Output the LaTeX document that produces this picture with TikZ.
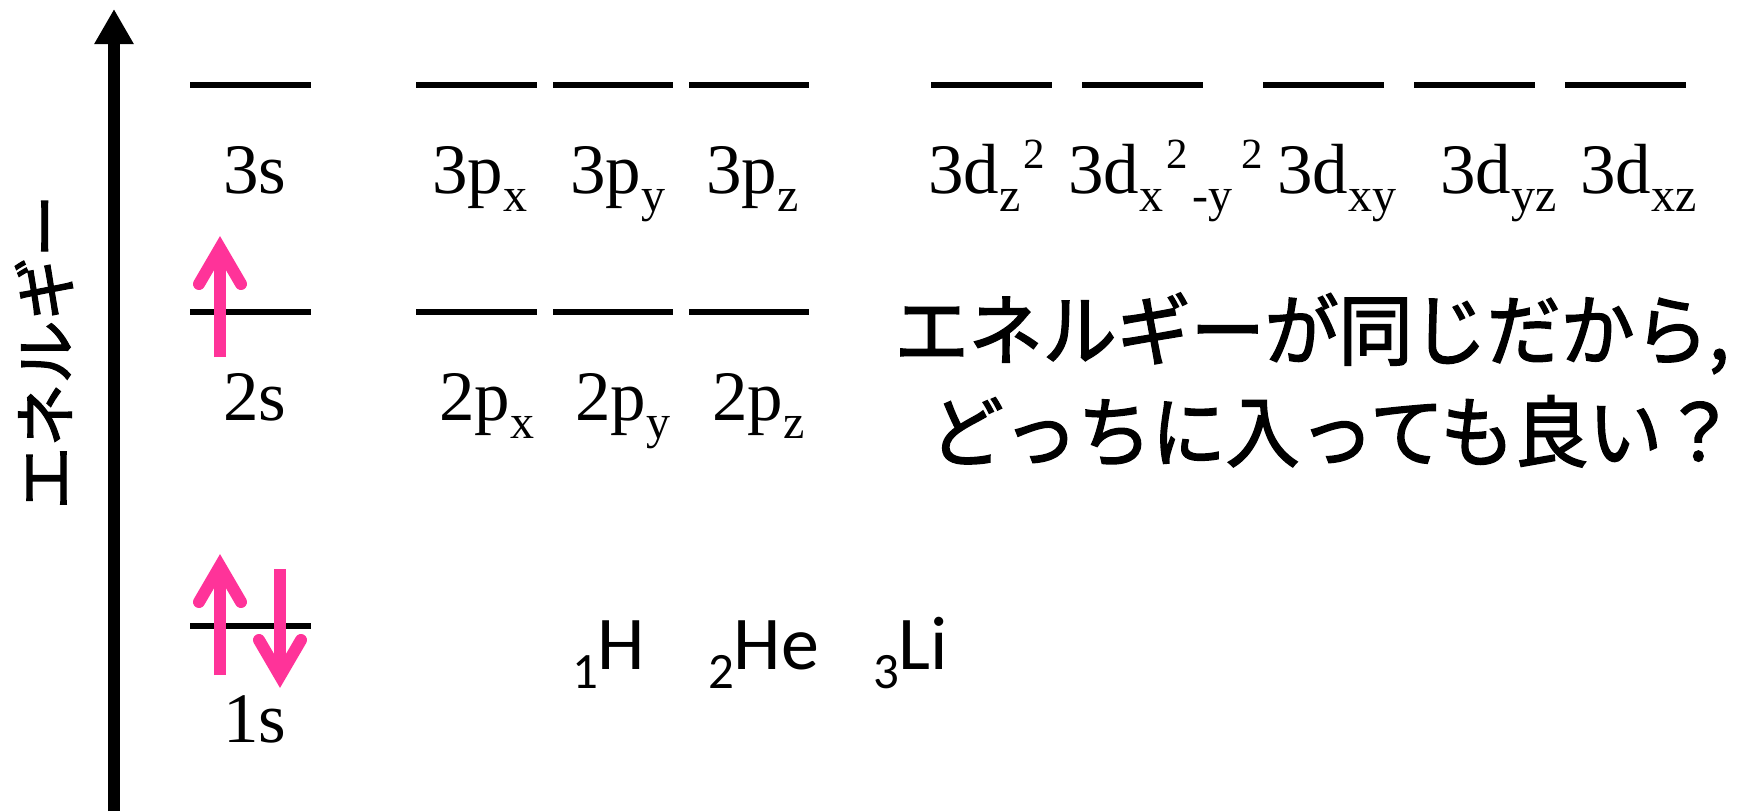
\documentclass[tikz,border=0pt]{standalone}
\usepackage{fontspec}
\setmainfont{Liberation Serif}
\newfontfamily\calib{Carlito}
\newfontfamily\jp[FakeBold=2]{Noto Sans CJK JP}
\usetikzlibrary{arrows.meta}
\definecolor{spin}{HTML}{FF3399}
\newcommand{\lsub}[1]{\raisebox{-9pt}{\fontsize{24}{24}\selectfont #1}}
\newcommand{\lsup}[1]{\raisebox{12.5pt}{\fontsize{21.5}{21.5}\selectfont #1}}
\newcommand{\csub}[1]{\raisebox{-9.5pt}{\fontsize{25.5}{25.5}\selectfont #1}}
\begin{document}
\begin{tikzpicture}[x=0.5pt,y=-0.5pt,
  level/.style={line width=3pt},
  orb/.style={anchor=base west,inner sep=0pt,outer sep=0pt,font=\fontsize{35.5}{35.5}\selectfont},
  elem/.style={anchor=base west,inner sep=0pt,outer sep=0pt,font=\calib\fontsize{38}{38}\selectfont},
  spinshaft/.style={draw=spin,line width=6pt},
  spinhead/.style={draw=spin,line width=6pt,line cap=round,line join=miter},
  axis/.style={line width=6pt,-{Triangle[width=18.5pt,length=17.5pt]}}]
\useasboundingbox (0,0) rectangle (1737,811);
\fill[white] (0,0) rectangle (1737,811);
% energy axis
\coordinate (axb) at (114,811);
\coordinate (axt) at (114,9);
\draw[axis] (axb) -- (axt);
\node[rotate=90,font=\jp\fontsize{31.5}{31.5}\selectfont,inner sep=0pt] (en) at (44,352) {エネルギー};
% levels
\draw[level] (190,85) -- (311,85);
\draw[level] (416,85) -- (537,85);
\draw[level] (553,85) -- (673,85);
\draw[level] (689,85) -- (809,85);
\draw[level] (931,85) -- (1052,85);
\draw[level] (1082,85) -- (1203,85);
\draw[level] (1263,85) -- (1384,85);
\draw[level] (1414,85) -- (1535,85);
\draw[level] (1565,85) -- (1686,85);
\draw[level] (190,312) -- (311,312);
\draw[level] (416,312) -- (537,312);
\draw[level] (553,312) -- (673,312);
\draw[level] (689,312) -- (809,312);
\draw[level] (190,626) -- (311,626);
% labels
\node[orb] (s3) at (223,193) {3s};
\node[orb] (p3x) at (432,193) {3p\lsub{x}};
\node[orb] (p3y) at (570,193) {3p\lsub{y}};
\node[orb] (p3z) at (706,193) {3p\lsub{z}};
\node[orb] (d1) at (928,193) {3d\lsub{z}\kern1.5pt\lsup{2}};
\node[orb] (d2) at (1068,193) {3d\lsub{x}\kern1.5pt\lsup{2}\kern2.5pt\lsub{-y}\kern4.5pt\lsup{2}};
\node[orb] (d3) at (1277,193) {3d\lsub{xy}};
\node[orb] (d4) at (1440,193) {3d\lsub{yz}};
\node[orb] (d5) at (1580,193) {3d\lsub{xz}};
\node[orb] (s2) at (223,420) {2s};
\node[orb] (p2x) at (439,420) {2p\lsub{x}};
\node[orb] (p2y) at (575,420) {2p\lsub{y}};
\node[orb] (p2z) at (712,420) {2p\lsub{z}};
\node[orb] (s1) at (223,742) {1s};
% electrons
\draw[spinshaft] (220,357) -- (220,250);
\draw[spinhead] (199,284) -- (220,248) -- (241,284);
\draw[spinshaft] (220,675) -- (220,568);
\draw[spinhead] (199,602) -- (220,566) -- (241,602);
\draw[spinshaft] (280,569) -- (280,674);
\draw[spinhead] (259,640) -- (280,676) -- (301,640);
% elements
\node[elem] (h) at (572,669) {\csub{1}H};
\node[elem] (he) at (708,669) {\csub{2}He};
\node[elem] (li) at (873,669) {\csub{3}Li};
% question
\node[font=\jp\fontsize{37}{48.5}\selectfont,align=center,inner sep=0pt,yscale=1.05] (q) at (1312,380) {エネルギーが同じだから,\\\kern21pt どっちに入っても良い？};
\end{tikzpicture}
\end{document}
